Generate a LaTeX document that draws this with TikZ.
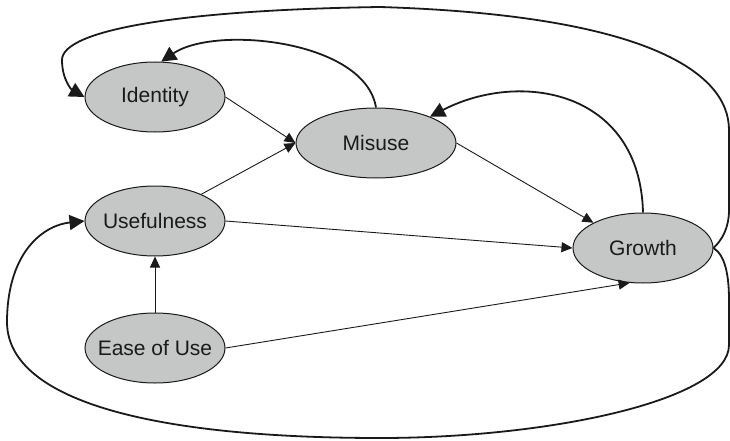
\documentclass[tikz,border=0pt]{standalone}
\usepackage{fontspec}
\setmainfont{Liberation Sans}
\usetikzlibrary{shapes.geometric,arrows.meta}
\definecolor{nodefill}{RGB}{197,199,198}
\definecolor{ink}{RGB}{26,26,26}
\tikzset{
  ell/.style={ellipse, draw=ink, line width=1pt, fill=nodefill, inner sep=0pt,
    minimum width=140pt, minimum height=70pt, text=ink, font=\fontsize{21}{24}\selectfont},
  thinarrow/.style={draw=ink, line width=0.9pt, -{Triangle[length=11pt,width=10pt]}},
  thickarrow/.style={draw=ink, line width=1.8pt, -{Triangle[length=15pt,width=15pt]}},
}
\begin{document}
\begin{tikzpicture}[x=1pt,y=-1pt]
\useasboundingbox (0,0) rectangle (730,441);
\node[ell] (identity) at (155,97) {\makebox[0pt]{Identity}};
\node[ell, minimum width=160pt] (misuse) at (376,143) {\makebox[0pt]{Misuse}};
\node[ell] (useful) at (155,221) {\makebox[0pt]{Usefulness}};
\node[ell] (growth) at (643,248) {\makebox[0pt]{Growth}};
\node[ell] (ease) at (155,348) {\makebox[0pt]{Ease of Use}};

% straight connectors
\draw[thinarrow] (identity.east) -- (misuse.west);
\draw[thinarrow] (useful.30) -- (misuse.west);
\draw[thinarrow] (misuse.east) -- (growth.153);
\draw[thinarrow] (useful.east) -- (growth.west);
\draw[thinarrow] (ease.east) -- (growth.249);
\draw[thinarrow] (ease.north) -- (useful.south);

% curved connectors
\draw[thickarrow] (misuse.north) .. controls (365,40) and (215,25) .. (identity.80);
\draw[thickarrow] (growth.north) .. controls (640,90) and (520,70) .. (misuse.26);

\coordinate (g1) at (729,210);
\coordinate (g2) at (729,130);
\coordinate (g3) at (380,7);
\coordinate (g4) at (62,60);
\draw[thickarrow] (growth.east) .. controls (722,240) and (729,228) .. (g1)
  -- (g2) .. controls (729,70) and (640,15) .. (g3)
  .. controls (180,10) and (62,30) .. (g4)
  .. controls (62,80) and (72,90) .. (identity.west);

\coordinate (h1) at (729,300);
\coordinate (h2) at (729,345);
\coordinate (h3) at (380,438);
\coordinate (h4) at (7,320);
\draw[thickarrow] (growth.east) .. controls (725,255) and (729,275) .. (h1)
  -- (h2) .. controls (729,400) and (550,438) .. (h3)
  .. controls (150,438) and (5,400) .. (h4)
  .. controls (8,250) and (45,225) .. (useful.west);
\end{tikzpicture}
\end{document}
